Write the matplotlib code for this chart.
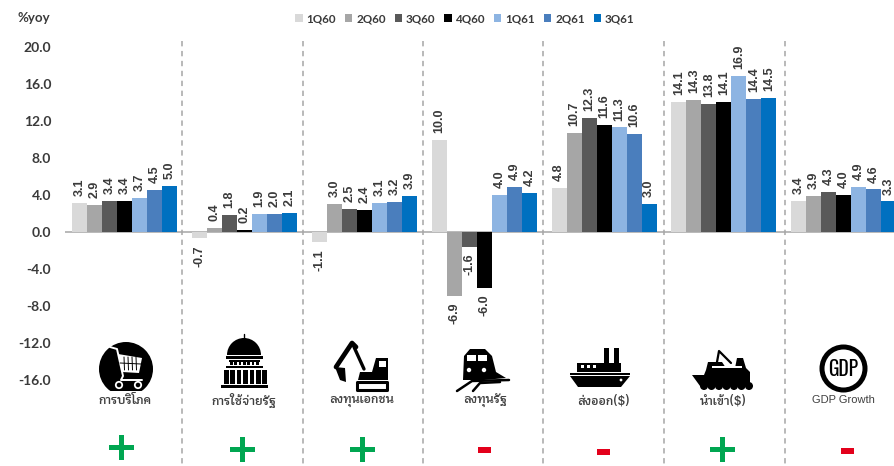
import numpy as np
import matplotlib
matplotlib.use('Agg')
import matplotlib.pyplot as plt
from matplotlib.patches import Circle, Polygon, Rectangle, Wedge

W, H = 894, 466

quarters = ['1Q60', '2Q60', '3Q60', '4Q60', '1Q61', '2Q61', '3Q61']
colors = ['#D9D9D9', '#A6A6A6', '#595959', '#000000', '#8DB4E2', '#4A7EBD', '#0070C0']
categories = ['การบริโภค', 'การใช้จ่ายรัฐ', 'ลงทุนเอกชน', 'ลงทุนรัฐ', 'ส่งออก($)', 'นำเข้า($)', 'GDP Growth']
consumption = [3.1, 2.9, 3.4, 3.4, 3.7, 4.5, 5.0]
gov_spending = [-0.7, 0.4, 1.8, 0.2, 1.9, 2.0, 2.1]
private_inv = [-1.1, 3.0, 2.5, 2.4, 3.1, 3.2, 3.9]
public_inv = [10.0, -6.9, -1.6, -6.0, 4.0, 4.9, 4.2]
exports = [4.8, 10.7, 12.3, 11.6, 11.3, 10.6, 3.0]
imports = [14.1, 14.3, 13.8, 14.1, 16.9, 14.4, 14.5]
gdp = [3.4, 3.9, 4.3, 4.0, 4.9, 4.6, 3.3]
signs = ['+', '+', '+', '-', '-', '+', '-']
yticks = [20, 16, 12, 8, 4, 0, -4, -8, -12, -16]

series = np.array([consumption, gov_spending, private_inv, public_inv, exports, imports, gdp])

LATO = ['Lato', 'DejaVu Sans']
ARIAL = ['Liberation Sans', 'DejaVu Sans']
THAI = ['Krub', 'DejaVu Sans']
INK = '#3A3A3A'

fig = plt.figure(figsize=(W / 100, H / 100), dpi=100, facecolor='white')

# pixel-space layer for separators, icons and the +/- verdicts
px = fig.add_axes([0, 0, 1, 1], zorder=3)
px.set_xlim(0, W)
px.set_ylim(H, 0)
px.axis('off')
px.patch.set_alpha(0)

# y: 9.25 px per point with zero at y=232, x: one group every 119.8 px
ax = fig.add_axes([65 / W, 0, (W - 65) / W, (H - 41) / H], zorder=2)
ax.set_xlim(-0.5, 6.42)
ax.set_ylim((232 - 466) / 9.25, (232 - 41) / 9.25)
ax.patch.set_alpha(0)
for s in ax.spines.values():
    s.set_visible(False)
ax.set_xticks([])
ax.set_yticks(yticks)
ax.set_yticklabels(['%.1f' % t for t in yticks], family=LATO, fontweight='bold',
                   fontsize=10, color=INK)
ax.tick_params(axis='y', length=0, pad=10)
ax.axhline(0, color='#A6A6A6', lw=1.1, zorder=1)

bar_w = 15 / 119.8
x = np.arange(len(categories))
handles = []
for j, q in enumerate(quarters):
    vals = series[:, j]
    bars = ax.bar(x + (j - 3) * bar_w, vals, bar_w, color=colors[j], label=q, zorder=2)
    handles.append(bars)
    for b, v in zip(bars, vals):
        ax.annotate('%.1f' % v, (b.get_x() + b.get_width() / 2, v),
                    xytext=(0, 5 if v >= 0 else -5), textcoords='offset points',
                    rotation=90, ha='center', va='bottom' if v >= 0 else 'top',
                    family=ARIAL, fontweight='bold', fontsize=9, color=INK,
                    annotation_clip=True)

fig.legend(handles, quarters, loc='center', bbox_to_anchor=(465 / W, 1 - 18.5 / H), ncol=7,
           frameon=False, handlelength=0.62, handleheight=0.62, handletextpad=0.35,
           columnspacing=0.76, borderpad=0, prop={'family': LATO, 'weight': 'bold', 'size': 8.4},
           labelcolor=INK)

px.text(18, 18.5, '%yoy', family=LATO, fontweight='bold', fontsize=9.5, color=INK, va='center')

for xd in [182, 303, 423, 543, 664, 785]:
    px.plot([xd, xd], [41, H], color='#A6A6A6', lw=1.1, dashes=(3.5, 3))

K = 'black'


def poly(pts, fc=K):
    px.add_patch(Polygon(pts, closed=True, fc=fc, ec='none'))


def rect(x0, y0, w, h, fc=K):
    px.add_patch(Rectangle((x0, y0), w, h, fc=fc, ec='none'))


def line(xs, ys, lw=1.5, c=K):
    px.plot(xs, ys, color=c, lw=lw, solid_capstyle='round')


def cart():
    px.add_patch(Circle((126, 369), 27, fc=K, ec='none'))
    rect(95, 391, 62, 10, 'white')
    line([110, 117, 123, 121, 142], [347, 349, 376, 380, 380], 1.4, 'white')
    poly([(118, 354), (142, 358), (139, 373), (122, 372)], 'white')
    for xg in [124, 128, 132, 136]:
        line([xg, xg + 0.5], [357, 370], 0.7, K)
    line([120, 141], [363, 364], 0.7, K)
    for xw in [119, 138]:
        px.add_patch(Circle((xw, 385), 3.2, fc=K, ec='white', lw=1.3))


def capitol():
    line([244, 244], [334, 339], 1.0)
    px.add_patch(Wedge((244, 355), 17, 180, 360, fc=K, ec='none'))
    rect(226, 356, 37, 2.5)
    rect(229, 360, 31, 1.5)
    for xc in np.arange(230, 259, 4.3):
        rect(xc, 362, 2.8, 3)
    rect(226, 366, 37, 2)
    for xc in np.arange(224, 266, 6.4):
        rect(xc, 369.5, 4.6, 14)
    rect(221, 384.5, 47, 3.5)


def excavator():
    line([336, 352, 356], [367, 343, 347], 3.4)
    line([354, 364], [347, 369], 2.4)
    poly([(335, 367), (345, 368), (346, 382), (340, 380)])
    poly([(360, 372), (372, 372), (376, 358), (388, 358), (388, 380), (358, 380)])
    rect(379, 361, 7, 6, 'white')
    px.add_patch(Rectangle((357, 382), 30, 8, fc='white', ec=K, lw=2.2, joinstyle='round'))


def train():
    poly([(464, 356), (470, 349), (485, 349), (492, 356), (496, 372), (506, 378), (484, 380),
          (463, 380)])
    rect(467, 355, 9, 6, 'white')
    rect(478, 355, 9, 6, 'white')
    px.add_patch(Circle((469, 370), 2.2, fc='white', ec='none'))
    px.add_patch(Circle((484, 370), 2.2, fc='white', ec='none'))
    line([457, 472, 509], [391, 381, 380], 1.8)
    line([473, 480, 500], [391, 383, 382], 1.8)


def ship():
    rect(604, 348, 5, 18)
    rect(614, 348, 5, 18)
    poly([(577, 363), (621, 363), (621, 372), (577, 372)])
    for xw in [581, 587, 593]:
        rect(xw, 365, 3.2, 3, 'white')
    rect(570, 373, 60, 2)
    poly([(570, 376), (630, 376), (621, 387), (578, 387)])
    px.add_patch(Circle((621, 380), 1.4, fc='white', ec='none'))


def boat():
    line([717, 719, 731], [362, 351, 363], 1.6)
    poly([(706, 370), (708, 362), (722, 362), (726, 368), (735, 368), (737, 358), (743, 358),
          (746, 368), (750, 372), (750, 386), (700, 386), (692, 375), (704, 375)])
    rect(712, 366, 30, 1.6, 'white')
    for xb in np.arange(704, 750, 7.5):
        px.add_patch(Circle((xb, 386), 4, fc=K, ec='none'))


def gdp_badge():
    px.add_patch(Circle((843.5, 368.5), 21.5, fc='white', ec=K, lw=3.6))
    px.text(843.5, 368.5, 'GDP', family=['Oswald', 'Roboto Condensed', 'Lato'], fontweight='bold',
            fontsize=14, color=K, ha='center', va='center')


for draw in [cart, capitol, excavator, train, ship, boat, gdp_badge]:
    draw()

label_x = [125, 244, 362, 485, 604, 723, 843]
for xl, name in zip(label_x, categories):
    if name == 'GDP Growth':
        px.text(xl, 400, name, family=ARIAL, fontsize=8, color='#404040', ha='center', va='center')
    else:
        px.text(xl, 400.5, name, family=THAI, fontsize=8.6, fontweight='semibold', color='#404040',
                ha='center', va='center')

sign_x = [121, 242, 362, 484, 603, 722, 847]
sign_y = [447.5, 449.5, 449.5, 450, 451.5, 449.5, 451]
for xs, ys, sign in zip(sign_x, sign_y, signs):
    if sign == '+':
        rect(xs - 12.5, ys - 2.5, 25, 5, '#00A651')
        rect(xs - 2.5, ys - 12.5, 5, 25, '#00A651')
    else:
        rect(xs - 6.5, ys - 3, 13, 6, '#E3001B')

fig.savefig('out.png', dpi=100)
